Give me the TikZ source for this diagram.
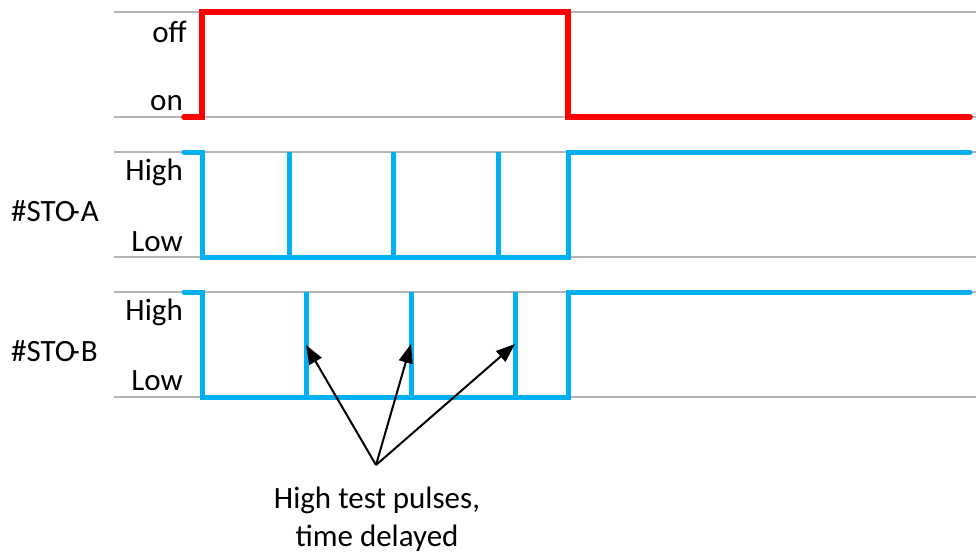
\documentclass[tikz,border=0pt]{standalone}
\usepackage{fontspec}
\setmainfont{Carlito}
\usetikzlibrary{arrows.meta}
\definecolor{sigred}{HTML}{FF0000}
\definecolor{sigblue}{HTML}{00B0F0}
\definecolor{gridgray}{HTML}{B4B4B4}
\begin{document}
\begin{tikzpicture}[x=1pt,y=-1pt,
  gridline/.style={draw=gridgray,line width=2pt},
  redsig/.style={draw=sigred,line width=5.5pt,line cap=round,line join=miter},
  bluesig/.style={draw=sigblue,line width=5pt,line cap=round,line join=miter},
  pulse/.style={draw=sigblue,line width=5pt},
  lvl/.style={font=\fontsize{31}{34}\selectfont,anchor=east,inner sep=0pt},
  sig/.style={font=\fontsize{31}{34}\selectfont,anchor=west,inner sep=0pt},
  note/.style={font=\fontsize{31}{38}\selectfont,align=center,inner sep=0pt},
  pointer/.style={draw=black,line width=2pt,-{Triangle[length=19pt,width=14pt]}}]
\useasboundingbox (0,0) rectangle (976,554);

% level grid
\foreach \y in {12,117,152,257,292,397}
  \draw[gridline] (114,\y) -- (976,\y);

% level labels
\node[lvl] (off)   at (187,32)  {off};
\node[lvl] (on)    at (183,103) {on};
\node[lvl] (ahigh) at (183,172) {High};
\node[lvl] (alow)  at (183,242) {Low};
\node[lvl] (bhigh) at (183,312) {High};
\node[lvl] (blow)  at (183,381) {Low};
\node[sig] (stoa)  at (11,211)  {\#STO\kern-5pt-\kern1pt A};
\node[sig] (stob)  at (11,351)  {\#STO\kern-5pt-\kern1pt B};

% enable signal
\draw[redsig] (184,117) -- (202,117) -- (202,12) -- (568,12) -- (568,117) -- (970,117);

% channel A with its test pulses
\draw[bluesig] (184,152) -- (202,152) -- (202,257) -- (568,257) -- (568,152) -- (970,152);
\foreach \x in {289,393,498}
  \draw[pulse] (\x,152) -- (\x,257);

% channel B with delayed test pulses
\draw[bluesig] (184,292) -- (202,292) -- (202,397) -- (568,397) -- (568,292) -- (970,292);
\foreach \x in {306,411,515}
  \draw[pulse] (\x,292) -- (\x,397);

% callout
\coordinate (fan) at (376,465);
\coordinate (p1) at (306,345);
\coordinate (p2) at (411,344);
\coordinate (p3) at (515,344);
\draw[pointer] (fan) -- (p1);
\draw[pointer] (fan) -- (p2);
\draw[pointer] (fan) -- (p3);
\node[note] (caption) at (377,519) {High test pulses,\\time delayed};
\end{tikzpicture}
\end{document}
